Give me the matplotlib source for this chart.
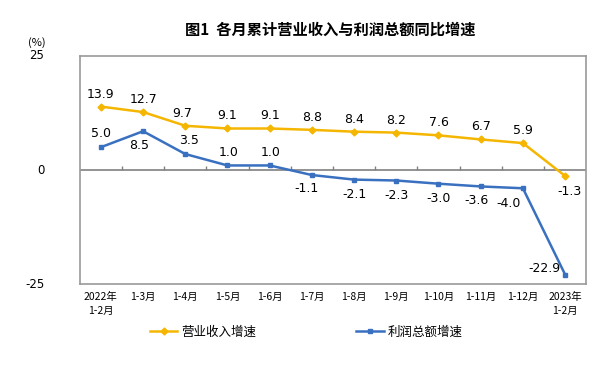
import numpy as np
import matplotlib.pyplot as plt

plt.rcParams['font.family'] = ['Noto Sans CJK SC', 'DejaVu Sans']

months = ["2022年\n1-2月", "1-3月", "1-4月", "1-5月", "1-6月", "1-7月", "1-8月",
          "1-9月", "1-10月", "1-11月", "1-12月", "2023年\n1-2月"]
revenue = [13.9, 12.7, 9.7, 9.1, 9.1, 8.8, 8.4, 8.2, 7.6, 6.7, 5.9, -1.3]
profit = [5.0, 8.5, 3.5, 1.0, 1.0, -1.1, -2.1, -2.3, -3.0, -3.6, -4.0, -22.9]

yellow = "#F5B602"
blue = "#3A70C0"

fig = plt.figure(figsize=(6, 3.68), dpi=100)
ax = fig.add_axes([0.133, 0.228, 0.844, 0.62])
x = np.arange(len(months))

# zero line with category boundary ticks pointing up
ax.axhline(0, color="#808080", lw=1.2, zorder=1)
ax.vlines(np.arange(0.5, len(months) - 1, 1.0), 0, 0.9, color="#808080", lw=1, zorder=1)

l1, = ax.plot(x, revenue, color=yellow, lw=1.8, marker="D", ms=3.5, label="营业收入增速", zorder=3)
l2, = ax.plot(x, profit, color=blue, lw=1.8, marker="s", ms=3.5, label="利润总额增速", zorder=3)

ax.set_xlim(-0.5, len(months) - 0.5)
ax.set_ylim(-25, 25)

# data labels
roff = {2: (-2, 9), 11: (3, -11)}
for i, v in enumerate(revenue):
    dx, dy = roff.get(i, (0, 9))
    ax.annotate(f"{v:.1f}", (i, v), xytext=(dx, dy), textcoords="offset points",
                ha="center", va="center", fontsize=9, family="DejaVu Sans")
poff = {0: (0, 10), 1: (-3, -10), 2: (3, 10), 3: (1, 9), 4: (1, 9),
        5: (-4, -10), 9: (-3, -10), 10: (-10, -11), 11: (-15, 4)}
for i, v in enumerate(profit):
    dx, dy = poff.get(i, (0, -11))
    ax.annotate(f"{v:.1f}", (i, v), xytext=(dx, dy), textcoords="offset points",
                ha="center", va="center", fontsize=9, family="DejaVu Sans")

# gray frame
for s in ax.spines.values():
    s.set_color("#9A9A9A")
    s.set_linewidth(1.2)
ax.set_xticks([])
ax.set_yticks([])

for i, m in enumerate(months):
    ax.text(i, -0.035, m, transform=ax.get_xaxis_transform(), ha="center", va="top",
            fontsize=7.5, linespacing=1.5)

for v in [25, 0, -25]:
    ax.text(-0.07, v, str(v), transform=ax.get_yaxis_transform(), ha="right",
            va="center", fontsize=8.5, family="DejaVu Sans")
ax.text(-0.085, 1.06, "(%)", transform=ax.transAxes, ha="center", va="center", fontsize=8)

fig.text(0.55, 0.92, "图1  各月累计营业收入与利润总额同比增速", ha="center", va="center",
         fontsize=11, fontweight="bold")

fig.legend(handles=[l1, l2], loc="center", bbox_to_anchor=(0.51, 0.098), ncol=2,
           frameon=False, fontsize=9, handlelength=2.2, columnspacing=8, handletextpad=0.3)

fig.savefig("out.png", dpi=100)
